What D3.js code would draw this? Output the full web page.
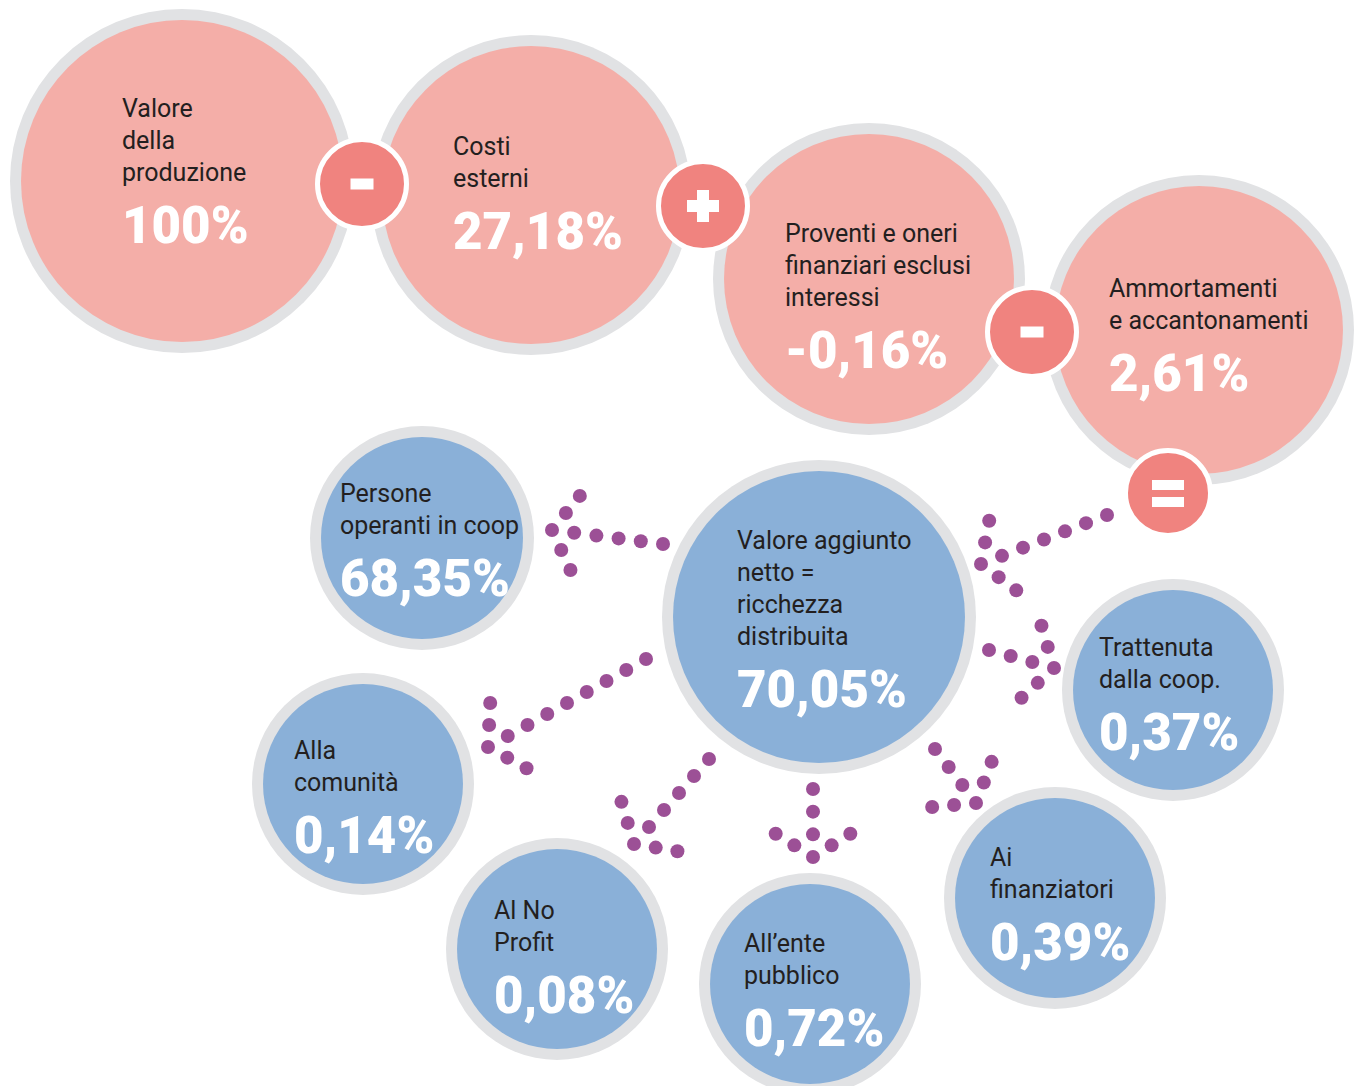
<!DOCTYPE html>
<html>
<head>
<meta charset="utf-8">
<script src="https://cdn.jsdelivr.net/npm/d3@7"></script>
<style>
  body { margin: 0; background: #fff; }
  svg { display: block; }
  .label { font-family: Roboto, "Noto Sans", sans-serif; font-size: 25px; fill: #231f20; }
  .pct { font-family: Roboto, "Noto Sans", sans-serif; font-size: 51px; font-weight: 900; fill: #fff; letter-spacing: 0px; }
</style>
</head>
<body>
<div id="chart"></div>
<script>
// data: formation of value (pink) and its distribution (blue)
const flowLabels = [
    ["Valore", "della", "produzione"],
    ["Costi", "esterni"],
    ["Proventi e oneri", "finanziari esclusi", "interessi"],
    ["Ammortamenti", "e accantonamenti"]
];
const flowValues = [100, 27.18, -0.16, 2.61];
const operators = ["-", "+", "-", "="];

const distLabels = [
    ["Valore aggiunto", "netto =", "ricchezza", "distribuita"],
    ["Persone", "operanti in coop"],
    ["Trattenuta", "dalla coop."],
    ["Alla", "comunità"],
    ["Al No", "Profit"],
    ["All\u2019ente", "pubblico"],
    ["Ai", "finanziatori"]
];
const distValues = [70.05, 68.35, 0.37, 0.14, 0.08, 0.72, 0.39];

// layout (centres, radii, text offsets)
const flowLayout = [
    {cx: 182, cy: 181, r: 172, tx: -60, ty: -64},
    {cx: 531, cy: 195, r: 160, tx: -78, ty: -40},
    {cx: 869, cy: 279, r: 156, tx: -84, ty: -37},
    {cx: 1199, cy: 330, r: 155, tx: -90, ty: -33}
];
const opLayout = [
    {cx: 362, cy: 184, r: 47},
    {cx: 703, cy: 206, r: 47},
    {cx: 1032, cy: 332, r: 47},
    {cx: 1168, cy: 493, r: 45}
];
const distLayout = [
    {cx: 819, cy: 617, r: 157, tx: -82, ty: -68},
    {cx: 422, cy: 538, r: 112, tx: -82, ty: -36},
    {cx: 1173, cy: 690, r: 111, tx: -74, ty: -34},
    {cx: 363, cy: 784, r: 111, tx: -69, ty: -25},
    {cx: 557, cy: 949, r: 111, tx: -63, ty: -30},
    {cx: 810, cy: 984, r: 111, tx: -66, ty: -32},
    {cx: 1055, cy: 898, r: 111, tx: -65, ty: -32}
];
// dotted arrows: tail dot, apex dot, number of steps between them
const arrows = [
    {x0: 1107, y0: 515, x1: 981, y1: 564, n: 6},
    {x0: 663, y0: 544, x1: 552, y1: 530, n: 5},
    {x0: 989, y0: 650, x1: 1054, y1: 668, n: 3},
    {x0: 646, y0: 659, x1: 488, y1: 747, n: 8},
    {x0: 709, y0: 759, x1: 634, y1: 844, n: 5},
    {x0: 813, y0: 789, x1: 813, y1: 857, n: 3},
    {x0: 935, y0: 749, x1: 976, y1: 803, n: 3}
];

const width = 1355, height = 1086;
const ringColor = "#e1e2e4", pinkColor = "#f4aea8", blueColor = "#8ab0d8",
      opColor = "#f0837f", dotColor = "#9c5096";

const itLocale = d3.formatLocale({decimal: ",", thousands: ".", grouping: [3], currency: ["", "\u00a0€"], minus: "-"});
const fmt2 = itLocale.format(".2f");
const fmtPct = v => (Number.isInteger(v) ? v : fmt2(v)) + "%";

const svg = d3.select("#chart").append("svg")
    .attr("width", width)
    .attr("height", height);

svg.append("rect").attr("width", width).attr("height", height).attr("fill", "#fff");

function drawBubbles(layout, labels, values, fill, cls) {
    let g = svg.append("g").attr("class", cls);
    let items = layout.map((l, i) => ({...l, lines: labels[i], value: values[i]}));

    let node = g.selectAll("g.bubble")
        .data(items)
        .enter()
        .append("g")
        .attr("class", "bubble")
        .attr("transform", d => `translate(${d.cx},${d.cy})`);

    node.append("circle")
        .attr("r", d => d.r)
        .attr("fill", ringColor);

    node.append("circle")
        .attr("r", d => d.r - 11)
        .attr("fill", fill);

    return node;
}

function drawTexts(node) {
    node.each(function(d) {
        let t = d3.select(this);
        d.lines.forEach((line, j) => {
            t.append("text")
                .attr("class", "label")
                .attr("x", d.tx)
                .attr("y", d.ty + j * 32)
                .text(line);
        });
        t.append("text")
            .attr("class", "pct")
            .attr("x", d.tx)
            .attr("y", d.ty + (d.lines.length - 1) * 32 + 62)
            .text(fmtPct(d.value));
    });
}

let flowNodes = drawBubbles(flowLayout, flowLabels, flowValues, pinkColor, "flow");
let distNodes = drawBubbles(distLayout, distLabels, distValues, blueColor, "dist");

// operators
let ops = svg.append("g").selectAll("g.op")
    .data(opLayout.map((l, i) => ({...l, sym: operators[i]})))
    .enter()
    .append("g")
    .attr("class", "op")
    .attr("transform", d => `translate(${d.cx},${d.cy})`);

ops.append("circle")
    .attr("r", d => d.r - 2.5)
    .attr("fill", opColor)
    .attr("stroke", "#fff")
    .attr("stroke-width", 5);

ops.each(function(d) {
    let g = d3.select(this);
    if (d.sym === "-") {
        g.append("rect").attr("x", -11.5).attr("y", -5.5).attr("width", 23).attr("height", 11).attr("fill", "#fff");
    } else if (d.sym === "+") {
        g.append("rect").attr("x", -16).attr("y", -6).attr("width", 32).attr("height", 12).attr("fill", "#fff");
        g.append("rect").attr("x", -6).attr("y", -16).attr("width", 12).attr("height", 32).attr("fill", "#fff");
    } else {
        g.append("rect").attr("x", -16).attr("y", -13).attr("width", 32).attr("height", 10).attr("fill", "#fff");
        g.append("rect").attr("x", -16).attr("y", 4).attr("width", 32).attr("height", 10).attr("fill", "#fff");
    }
});

// dotted arrows: shaft dots plus a chevron of two arms at the apex
let armAngle = 58 * Math.PI / 180;
let dots = [];
arrows.forEach(a => {
    let sx = (a.x1 - a.x0) / a.n, sy = (a.y1 - a.y0) / a.n;
    for (let k = 0; k <= a.n; k++) {
        dots.push({x: a.x0 + sx * k, y: a.y0 + sy * k});
    }
    let back = Math.atan2(-sy, -sx);
    [-armAngle, armAngle].forEach(off => {
        for (let k = 1; k <= 2; k++) {
            dots.push({
                x: a.x1 + Math.cos(back + off) * 22 * k,
                y: a.y1 + Math.sin(back + off) * 22 * k
            });
        }
    });
});

svg.append("g").selectAll("circle")
    .data(dots)
    .enter()
    .append("circle")
    .attr("cx", d => d.x)
    .attr("cy", d => d.y)
    .attr("r", 7)
    .attr("fill", dotColor);

drawTexts(flowNodes);
drawTexts(distNodes);
</script>
</body>
</html>
